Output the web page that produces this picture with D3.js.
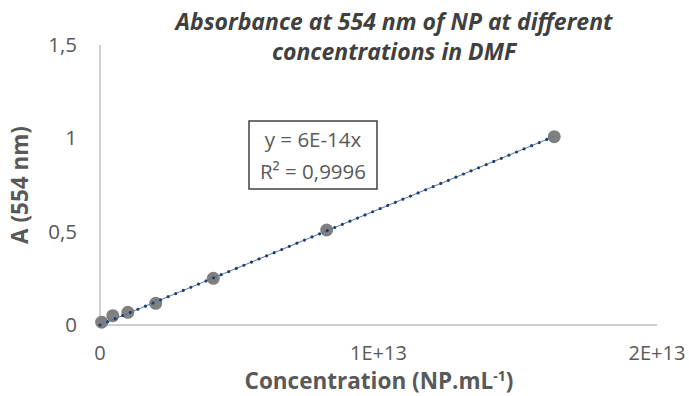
<!DOCTYPE html>
<html><head><meta charset="utf-8">
<script src="https://cdn.jsdelivr.net/npm/d3@7"></script>
<style>body{margin:0;background:#fff}svg{display:block}</style>
</head><body>
<script>
const concentrations = [6e10, 4.6e11, 1.0e12, 2.0e12, 4.07e12, 8.14e12, 1.631e13];
const absorbances = [0.015, 0.05, 0.068, 0.116, 0.25, 0.509, 1.009];
const xTicks = [0, 1e13, 2e13];
const xTickLabels = ["0", "1E+13", "2E+13"];
const yTicks = [0, 0.5, 1, 1.5];
const yTickLabels = ["0", "0,5", "1", "1,5"];
const titleLines = ["Absorbance at 554 nm of NP at different", "concentrations in DMF"];
const equationLines = ["y = 6E-14x", "R² = 0,9996"];

const W = 689, H = 396;
const svg = d3.select("body").append("svg").attr("width", W).attr("height", H);
const font = "'Open Sans', 'Liberation Sans', sans-serif";
const x = d3.scaleLinear().domain([0, 2e13]).range([100, 657]);
const y = d3.scaleLinear().domain([0, 1.5]).range([325, 45]);

// axes
svg.append("line").attr("x1", x(0)).attr("x2", x(2e13)).attr("y1", y(0)).attr("y2", y(0))
  .attr("stroke", "#bfbfbf").attr("stroke-width", 1.5);
svg.append("line").attr("x1", x(0)).attr("x2", x(0)).attr("y1", y(0)).attr("y2", y(1.5))
  .attr("stroke", "#bfbfbf").attr("stroke-width", 1.5);

svg.selectAll(".xt").data(xTicks).enter().append("text")
  .attr("x", d => x(d)).attr("y", 360).attr("text-anchor", "middle")
  .attr("font-family", font).attr("font-size", 20).attr("fill", "#595959")
  .text((d, i) => xTickLabels[i]);
svg.selectAll(".yt").data(yTicks).enter().append("text")
  .attr("x", 77).attr("y", d => y(d) + 7).attr("text-anchor", "end")
  .attr("font-family", font).attr("font-size", 20.5).attr("fill", "#595959")
  .text((d, i) => yTickLabels[i]);

// axis titles
const xt = svg.append("text").attr("x", 379).attr("y", 389).attr("text-anchor", "middle")
  .attr("font-family", font).attr("font-size", 22.5).attr("font-weight", "bold").attr("fill", "#595959");
xt.append("tspan").text("Concentration (NP.mL");
xt.append("tspan").attr("dy", -8).attr("font-size", 14).text("-1");
xt.append("tspan").attr("dy", 8).text(")");
svg.append("text").attr("transform", "translate(28,185) rotate(-90)").attr("text-anchor", "middle")
  .attr("font-family", font).attr("font-size", 22.5).attr("font-weight", "bold").attr("fill", "#595959")
  .text("A (554 nm)");

// title
svg.selectAll(".title").data(titleLines).enter().append("text")
  .attr("x", 394).attr("y", (d, i) => 30 + i * 30).attr("text-anchor", "middle")
  .attr("font-family", font).attr("font-size", 23).attr("font-weight", "bold").attr("font-style", "italic")
  .attr("fill", "#404040").text(d => d);

// data points
const pts = concentrations.map((c, i) => [c, absorbances[i]]);
svg.selectAll(".pt").data(pts).enter().append("circle")
  .attr("cx", d => x(d[0])).attr("cy", d => y(d[1])).attr("r", 6.5).attr("fill", "#808080");

// trendline through origin (least squares)
const slope = d3.sum(pts, d => d[0] * d[1]) / d3.sum(pts, d => d[0] * d[0]);
const xMax = d3.max(concentrations);
const tl = [[0, 0], [xMax, slope * xMax]];
const line = d3.line().x(d => x(d[0])).y(d => y(d[1]));
svg.append("path").attr("d", line(tl)).attr("stroke", "#5a7aa5").attr("stroke-width", 1).attr("fill", "none");
svg.append("path").attr("d", line(tl)).attr("stroke", "#1f3f6e").attr("stroke-width", 3.2)
  .attr("stroke-linecap", "round").attr("stroke-dasharray", "0 8.2").attr("fill", "none");

// equation box
svg.append("rect").attr("x", 249).attr("y", 121).attr("width", 128).attr("height", 68)
  .attr("fill", "#fff").attr("stroke", "#404040").attr("stroke-width", 1.5);
svg.selectAll(".eq").data(equationLines).enter().append("text")
  .attr("x", 313).attr("y", (d, i) => 147 + i * 32).attr("text-anchor", "middle")
  .attr("font-family", font).attr("font-size", 20.5).attr("fill", "#595959").text(d => d);
</script>
</body></html>
